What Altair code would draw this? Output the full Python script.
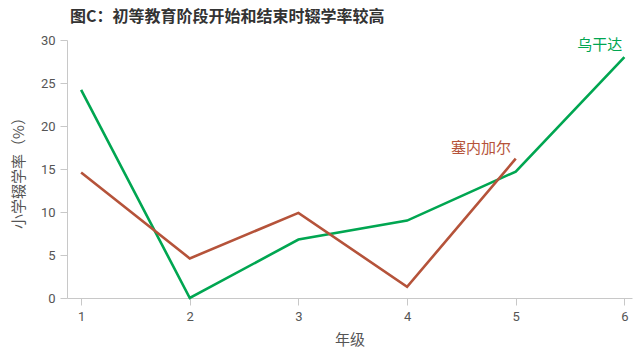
import altair as alt
import pandas as pd

grades = [1, 2, 3, 4, 5, 6]
uganda = [24.2, 0.0, 6.8, 9.0, 14.7, 28.0]
senegal_grades = [1, 2, 3, 4, 5]
senegal = [14.6, 4.6, 9.9, 1.3, 16.2]
y_ticks = [0, 5, 10, 15, 20, 25, 30]

GREEN = "#00a651"
BROWN = "#b5533a"
CJK = "Noto Sans CJK SC"
NUM = "Liberation Sans Narrow, Roboto, sans-serif"

rows = []
for g, v in zip(grades, uganda):
    rows.append({"grade": g, "rate": v, "country": "乌干达"})
for g, v in zip(senegal_grades, senegal):
    rows.append({"grade": g, "rate": v, "country": "塞内加尔"})
df = pd.DataFrame(rows)

labels = pd.DataFrame([
    {"grade": 5.98, "rate": 29.4, "country": "乌干达", "align": "right"},
    {"grade": 4.68, "rate": 17.5, "country": "塞内加尔", "align": "center"},
])

xscale = alt.Scale(domain=[0.87, 6.07], nice=False, zero=False)
yscale = alt.Scale(domain=[0, 30], nice=False)
color = alt.Color("country:N", scale=alt.Scale(domain=["乌干达", "塞内加尔"], range=[GREEN, BROWN]), legend=None)

lines = alt.Chart(df).mark_line(strokeWidth=2.6).encode(
    x=alt.X("grade:Q", scale=xscale, title="年级",
            axis=alt.Axis(values=grades, format="d", grid=False, domainColor="#c8c8c8",
                          tickColor="#c8c8c8", tickSize=7, labelFont=NUM, labelFontSize=13,
                          labelColor="#555555", labelPadding=5, titleFont=CJK, titleFontSize=15,
                          titleColor="#555555", titleFontWeight="normal", titlePadding=9)),
    y=alt.Y("rate:Q", scale=yscale, title="小学辍学率（%）",
            axis=alt.Axis(values=y_ticks, grid=False, domainColor="#c8c8c8",
                          tickColor="#c8c8c8", tickSize=7, labelFont=NUM, labelFontSize=13,
                          labelColor="#555555", labelPadding=5, titleFont=CJK, titleFontSize=15,
                          titleColor="#555555", titleFontWeight="normal", titlePadding=14)),
    color=color,
    detail="country:N",
)

text_r = alt.Chart(labels[labels["align"] == "right"]).mark_text(
    font=CJK, fontSize=15, align="right", baseline="middle"
).encode(x=alt.X("grade:Q", scale=xscale), y=alt.Y("rate:Q", scale=yscale), text="country:N", color=color)

text_c = alt.Chart(labels[labels["align"] == "center"]).mark_text(
    font=CJK, fontSize=15, align="center", baseline="middle"
).encode(x=alt.X("grade:Q", scale=xscale), y=alt.Y("rate:Q", scale=yscale), text="country:N", color=color)

chart = alt.layer(lines, text_r, text_c).properties(
    width=565, height=258,
    title=alt.TitleParams("图C：初等教育阶段开始和结束时辍学率较高", font=CJK, fontSize=16,
                          fontWeight="bold", color="#333333", anchor="start", frame="group",
                          offset=9, dx=3),
    autosize=alt.AutoSizeParams(type="none"),
    padding={"left": 67, "top": 40, "right": 1, "bottom": 52},
).configure_view(stroke=None)

chart.save("out.html", embed_options={"renderer": "svg", "actions": False})
